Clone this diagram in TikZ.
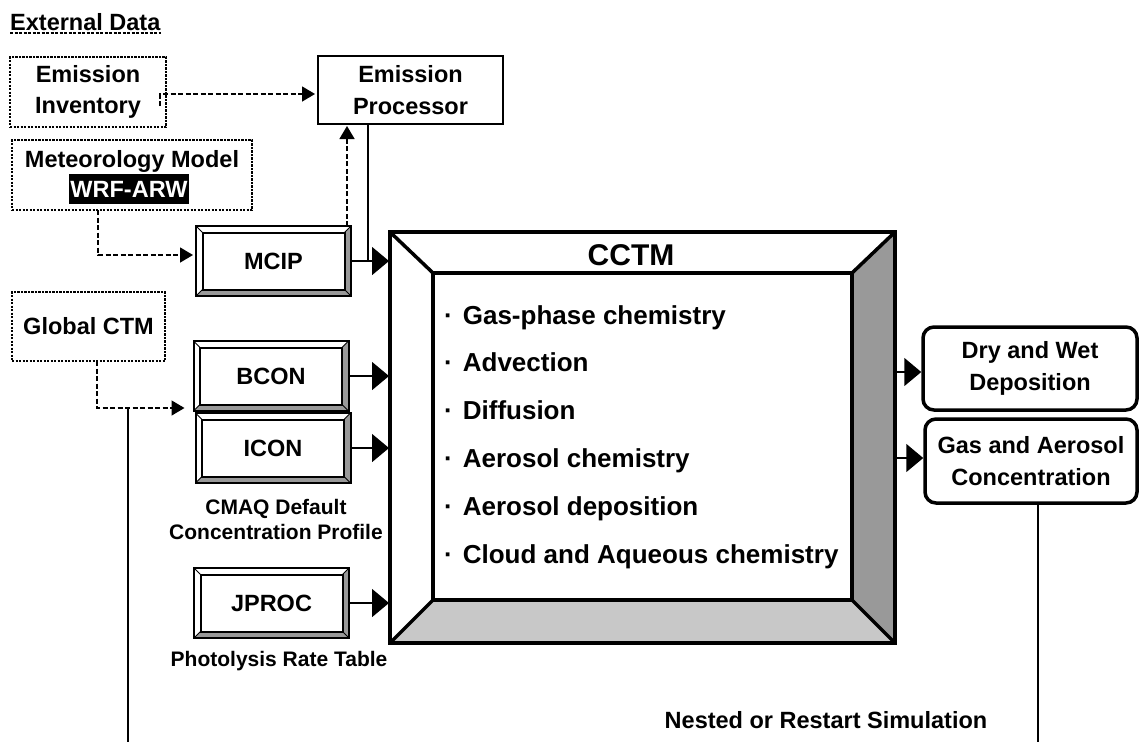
\documentclass[tikz,border=0pt]{standalone}
\usepackage{fontspec}
\setmainfont{Liberation Sans}
\usetikzlibrary{arrows.meta,calc}
\definecolor{bevdark}{HTML}{999999}
\definecolor{bevlight}{HTML}{C8C8C8}
\tikzset{
  lbl/.style={font=\bfseries\fontsize{23.5}{31.5}\selectfont, align=center},
  smalllbl/.style={font=\bfseries\fontsize{21}{25}\selectfont, align=center},
  listitem/.style={font=\bfseries\fontsize{26}{30}\selectfont, anchor=base west, inner sep=0pt},
  dotbox/.style={draw, line width=2.5pt, dash pattern=on 2.2pt off 1.3pt, inner sep=0pt, outer sep=0pt, lbl},
  bevbox/.style={draw, line width=2pt, fill=white, minimum width=155pt, minimum height=70pt, inner sep=0pt, outer sep=0pt, lbl},
  outbox/.style={draw, line width=3.5pt, rounded corners=11pt, inner sep=0pt, lbl},
  solidarr/.style={line width=1.5pt, -{Triangle[length=17pt,width=28pt]}},
  dasharr/.style={line width=1.5pt, dash pattern=on 5pt off 2.5pt, -{Triangle[length=13pt,width=15pt]}},
  thinline/.style={line width=1.5pt}
}
\newcommand\bevelize[1]{%
  \fill[bevdark] (#1.north east) -- (#1.south east) -- ($(#1.south east)+(-6.5,-6.5)$) -- ($(#1.north east)+(-6.5,6.5)$) -- cycle;
  \fill[bevdark] (#1.south west) -- (#1.south east) -- ($(#1.south east)+(-6.5,-6.5)$) -- ($(#1.south west)+(6.5,-6.5)$) -- cycle;
  \draw[line width=1pt] (#1.north west) -- ++(6.5,6.5) (#1.north east) -- ++(-6.5,6.5)
        (#1.south west) -- ++(6.5,-6.5) (#1.south east) -- ++(-6.5,-6.5);
  \draw[line width=2pt] ($(#1.north west)+(6.5,6.5)$) rectangle ($(#1.south east)+(-6.5,-6.5)$);
  \draw[line width=2pt] (#1.north west) rectangle (#1.south east);
}
\begin{document}
\begin{tikzpicture}[x=1pt,y=-1pt]
\useasboundingbox (0,0) rectangle (1139,742);

% heading
\node[lbl, anchor=base west, inner sep=0pt] (ext) at (10,30.5) {External Data};
\draw[line width=1.3pt, dash pattern=on 3pt off 1.5pt] (ext.south west) ++(0,2) coordinate (u1) -- (u1 -| ext.south east);

% external data boxes
\node[dotbox, minimum width=156pt, minimum height=70pt] (ei) at (88,92) {Emission\\Inventory};
\node[dotbox, minimum width=240pt, minimum height=70pt] (met) at (132,175) {};
\node[lbl, inner sep=0pt] (mettxt) at (132,161) {Meteorology Model};
\node[lbl, fill=black, text=white, minimum width=120pt, minimum height=30pt, inner sep=0pt] (wrf) at (129,189) {WRF-ARW};
\node[dotbox, minimum width=153pt, minimum height=69pt] (gctm) at (88.5,326.5) {Global CTM};

% emission processor
\node[draw, line width=2.5pt, minimum width=185pt, minimum height=68pt, inner sep=0pt, outer sep=0pt, lbl] (ep) at (410.5,90) {Emission\\Processor};

% bevel boxes
\node[bevbox] (mcip) at (273.5,261) {MCIP};
\node[bevbox] (bcon) at (271,376) {BCON};
\node[bevbox] (icon) at (273,448) {ICON};
\node[bevbox] (jproc) at (271.5,603) {JPROC};
\bevelize{mcip}
\bevelize{bcon}
\bevelize{icon}
\bevelize{jproc}
\node[smalllbl] (cmaq) at (276,519.5) {CMAQ Default\\Concentration Profile};
\node[smalllbl] (photo) at (279,661) {Photolysis Rate Table};

% CCTM
\node[minimum width=505pt, minimum height=411pt, inner sep=0pt, outer sep=0pt] (cctm) at (642.5,437.5) {};
\coordinate (inw) at ($(cctm.north west)+(43,41)$);
\coordinate (ine) at ($(cctm.north east)+(-43,41)$);
\coordinate (ise) at ($(cctm.south east)+(-43,-43)$);
\coordinate (isw) at ($(cctm.south west)+(43,-43)$);
\fill[white] (cctm.north west) rectangle (cctm.south east);
\fill[bevdark] (cctm.north east) -- (cctm.south east) -- (ise) -- (ine) -- cycle;
\fill[bevlight] (cctm.south west) -- (cctm.south east) -- (ise) -- (isw) -- cycle;
\draw[line width=3.5pt] (cctm.north west) -- (inw) (cctm.north east) -- (ine)
      (cctm.south east) -- (ise) (cctm.south west) -- (isw);
\draw[line width=3.5pt] (inw) rectangle (ise);
\draw[line width=4pt] (cctm.north west) rectangle (cctm.south east);
\node[font=\bfseries\fontsize{30}{34}\selectfont, inner sep=0pt] (cctmtitle) at (631,255) {CCTM};
\node[listitem] (l1) at (444,324) {·\hspace{10pt}Gas-phase chemistry};
\node[listitem] (l2) at (444,371.8) {·\hspace{10pt}Advection};
\node[listitem] (l3) at (444,419.6) {·\hspace{10pt}Diffusion};
\node[listitem] (l4) at (444,467.4) {·\hspace{10pt}Aerosol chemistry};
\node[listitem] (l5) at (444,515.2) {·\hspace{10pt}Aerosol deposition};
\node[listitem] (l6) at (444,563) {·\hspace{10pt}Cloud and Aqueous chemistry};

% outputs
\node[outbox, minimum width=214pt, minimum height=83pt] (dry) at (1030,368.5) {Dry and Wet\\Deposition};
\node[outbox, minimum width=212pt, minimum height=84pt] (gas) at (1031,461) {Gas and Aerosol\\Concentration};

% connectors
\coordinate (eih) at ($(ei.east)+(-6,14)$);
\draw[dasharr] (eih) |- ($(ep.west)+(-3,4)$);
\coordinate (mu) at ($(mcip.north east)+(-4,0)$);
\draw[dasharr] (mu) -- ($(mu |- ep.south)+(0,2)$);
\coordinate (ms) at ($(met.south west)+(86,0)$);
\draw[dasharr] (ms) |- ($(mcip.west)+(-3,-6)$);
\coordinate (gs) at ($(gctm.south)+(8.5,0)$);
\draw[dasharr] (gs) |- ($(bcon.south west)+(-9,-3)$);

\coordinate (epout) at ($(ep.south west)+(50,0)$);
\draw[thinline] (epout) -- (epout |- mcip.east);
\draw[solidarr] (mcip.east) -- ($(mcip.east -| cctm.west)+(-1,0)$);
\draw[solidarr] (bcon.east) -- ($(bcon.east -| cctm.west)+(-1,0)$);
\draw[solidarr] (icon.east) -- ($(icon.east -| cctm.west)+(-1,0)$);
\draw[solidarr] (jproc.east) -- ($(jproc.east -| cctm.west)+(-1,0)$);

\coordinate (c1) at ($(cctm.east)+(2,-65.5)$);
\draw[solidarr] (c1) -- (c1 -| dry.west);
\coordinate (c2) at ($(cctm.east)+(2,20.5)$);
\draw[solidarr] (c2) -- (c2 -| gas.west);

% nested / restart loop
\coordinate (loopl) at ($(gs)+(31,47)$);
\coordinate (loopld) at (loopl |- 0,742);
\draw[thinline] (loopl) -- (loopld);
\coordinate (loopr) at ($(gas.south)+(7,0)$);
\coordinate (looprd) at (loopr |- 0,742);
\draw[thinline] (loopr) -- (looprd);
\node[lbl, inner sep=0pt] (nested) at (826,720) {Nested or Restart Simulation};
\end{tikzpicture}
\end{document}
